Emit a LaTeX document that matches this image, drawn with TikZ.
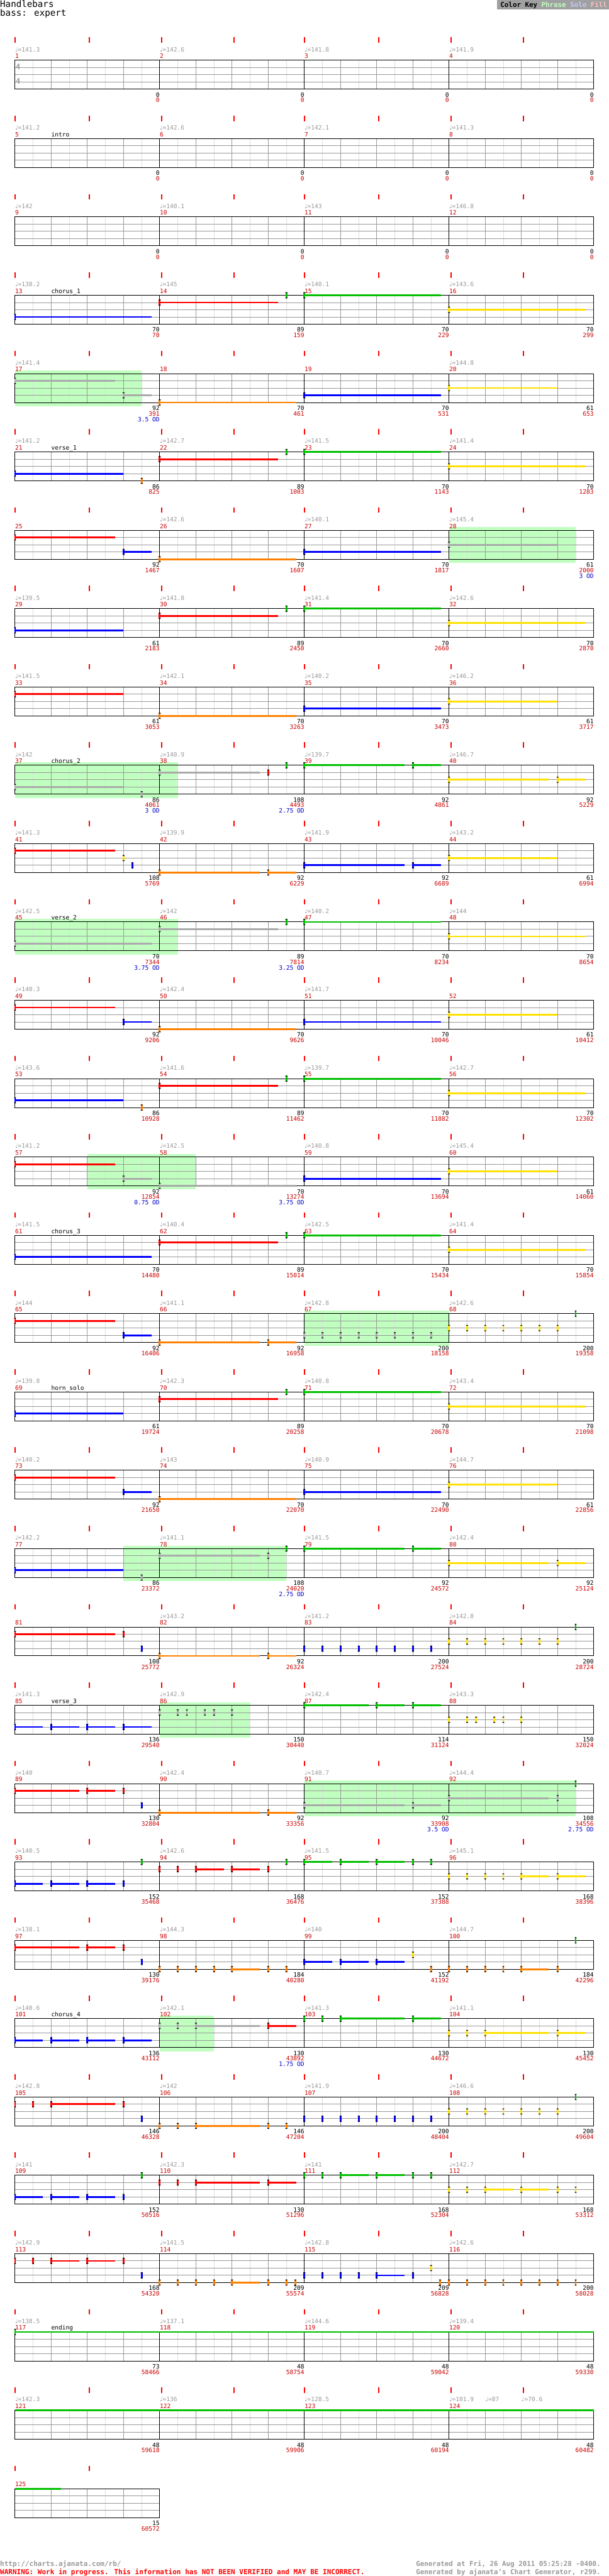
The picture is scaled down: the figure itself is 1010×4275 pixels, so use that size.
\documentclass[tikz,border=0pt]{standalone}
\usepackage{fontspec}
\usetikzlibrary{positioning}
\newfontfamily\chartfont{DejaVu Sans Mono}
\newfontfamily\notefont{DejaVu Sans}
\definecolor{gG}{HTML}{00C000}
\definecolor{gR}{HTML}{FF0000}
\definecolor{gY}{HTML}{FFE000}
\definecolor{gB}{HTML}{0000FF}
\definecolor{gO}{HTML}{FF8000}
\definecolor{gK}{HTML}{AAAAAA}
\definecolor{phrasefill}{HTML}{C0FFC0}
\definecolor{solofill}{HTML}{C8C8FF}
\definecolor{fillpink}{HTML}{FFC0C0}
\definecolor{keygray}{HTML}{A0A0A0}
\definecolor{gridgray}{HTML}{999999}
\definecolor{gridlight}{HTML}{DDDDDD}
\definecolor{tempogray}{HTML}{999999}
\definecolor{scorered}{HTML}{CC0000}
\definecolor{tickred}{HTML}{FF0000}
\definecolor{odblue}{HTML}{0000CC}
\newcommand\gem[3]{%
  \fill[#3] (#1-1.5,#2-5) rectangle ++(3,10);
  \fill[black] (#1-1.5,#2-5) rectangle ++(3,1.3) (#1-1.5,#2+3.7) rectangle ++(3,1.3);}

\begin{document}
\begin{tikzpicture}[x=1pt, y=-1pt,
    every node/.style={inner sep=0pt, font=\chartfont\fontsize{10}{12}\selectfont},
    barno/.style={anchor=base west, text=scorered},
    tempo/.style={anchor=base west, text=tempogray},
    part/.style={anchor=base west},
    score/.style={anchor=base east},
    total/.style={anchor=base east, text=scorered},
    od/.style={anchor=base east, text=odblue},
    foot/.style={anchor=base west, font=\chartfont\bfseries\fontsize{11.5}{12}\selectfont},
    sus/.style={line width=3pt, draw=#1},
    secmark/.style={line width=2pt, draw=tickred},
    faint/.style={line width=1pt, draw=gridlight},
    lane/.style={line width=1pt, draw=gridgray},
    barline/.style={line width=1pt, draw=black}]
\fill[white] (0,0) rectangle (1010,4275);
\useasboundingbox (0,0) rectangle (1010,4275);

\node[anchor=base west, font=\chartfont\fontsize{14.8}{16}\selectfont] (title) at (0,12.5) {Handlebars};
\node[anchor=base west, font=\chartfont\fontsize{14.8}{16}\selectfont] (track) at (0,26.5) {bass: expert};
\fill[keygray] (825,0) rectangle (1010,16);
\node[anchor=base west, font=\chartfont\bfseries\fontsize{11.3}{12}\selectfont] (key) at (830,11.5)
  {Color Key \textcolor{phrasefill}{Phrase} \textcolor{solofill}{Solo} \textcolor{fillpink}{Fill}};

\foreach \rowno/\bstart/\bend in {4/0/3.5, 6/12/15.5, 9/0/4.5, 11/0/4.5, 14/2/5, 16/8/12,
    19/3/7.5, 21/4/6.5, 22/8/15.5, 25/4/5.5}
  \fill[phrasefill] (25+60*\bstart,95+130*\rowno) rectangle (25+60*\bend,154+130*\rowno);

\foreach \rowno in {0,...,31}{
  \pgfmathsetmacro\yt{100+130*\rowno}
  \pgfmathtruncatemacro\wd{\rowno<31 ? 960 : 240}
  \foreach \x in {30,90,...,\wd} \draw[faint] (25+\x,\yt) -- ++(0,48);
  \foreach \k in {12,24,36} \draw[lane] (25,\yt+\k) -- ++(\wd,0);
  \foreach \x in {60,120,...,\wd} \draw[lane] (25+\x,\yt) -- ++(0,48);
  \ifnum\rowno<31
    \foreach \x in {240,480,720} \draw[barline] (25+\x,\yt) -- ++(0,48);
    \def\marks{25,148,268,388,505,628,748,868}
  \else
    \def\marks{25,148}
  \fi
  \draw[barline] (25,\yt) rectangle ++(\wd,48);
  \foreach \x in \marks \draw[secmark] (\x,\yt-38) -- ++(0,9);
}
\node[anchor=west, text=tempogray, font=\chartfont\bfseries\fontsize{12.5}{13}\selectfont] (sigtop) at (26,110.5) {4};
\node[anchor=west, text=tempogray, font=\chartfont\bfseries\fontsize{12.5}{13}\selectfont] (sigbot) at (26,134.5) {4};

\foreach \rowno/\laneno/\gemcol/\bstart/\bend in {
    3/3/gB/0/3.77, 3/1/gR/4/7.27, 3/0/gG/8/11.77, 3/2/gY/12/15.77,
    4/1/gK/0/2.77, 4/3/gK/3/3.77, 4/4/gO/4/7.77, 4/3/gB/8/11.77, 4/2/gY/12/15,
    5/3/gB/0/3, 5/1/gR/4/7.27, 5/0/gG/8/11.77, 5/2/gY/12/15.77,
    6/1/gR/0/2.77, 6/3/gB/3/3.77, 6/4/gO/4/7.77, 6/3/gB/8/11.77, 6/2/gK/12/15,
    7/3/gB/0/3, 7/1/gR/4/7.27, 7/0/gG/8/11.77, 7/2/gY/12/15.77,
    8/1/gR/0/3, 8/4/gO/4/7.77, 8/3/gB/8/11.77, 8/2/gY/12/15,
    9/3/gK/0/3, 9/1/gK/4/6.76, 9/0/gG/8/10.77, 9/0/gG/11/11.77, 9/2/gY/12/14.76, 9/2/gY/15/15.77,
    10/1/gR/0/2.77, 10/4/gO/4/6.76, 10/4/gO/7/7.77, 10/3/gB/8/10.77, 10/3/gB/11/11.77, 10/2/gY/12/15,
    11/3/gK/0/3.77, 11/1/gK/4/7.27, 11/0/gG/8/11.77, 11/2/gY/12/15.77,
    12/1/gR/0/2.77, 12/3/gB/3/3.77, 12/4/gO/4/7.77, 12/3/gB/8/11.77, 12/2/gY/12/15,
    13/3/gB/0/3, 13/1/gR/4/7.27, 13/0/gG/8/11.77, 13/2/gY/12/15.77,
    14/1/gR/0/2.77, 14/3/gK/3/3.77, 14/4/gK/4/7.77, 14/3/gB/8/11.77, 14/2/gY/12/15,
    15/3/gB/0/3.77, 15/1/gR/4/7.27, 15/0/gG/8/11.77, 15/2/gY/12/15.77,
    16/1/gR/0/2.77, 16/3/gB/3/3.77, 16/4/gO/4/6.76, 16/4/gO/7/7.77,
    17/3/gB/0/3, 17/1/gR/4/7.27, 17/0/gG/8/11.77, 17/2/gY/12/15.77,
    18/1/gR/0/2.77, 18/3/gB/3/3.77, 18/4/gO/4/7.77, 18/3/gB/8/11.77, 18/2/gY/12/15,
    19/3/gB/0/3, 19/1/gK/4/6.76, 19/0/gG/8/10.77, 19/0/gG/11/11.77, 19/2/gY/12/14.76, 19/2/gY/15/15.77,
    20/1/gR/0/2.77, 20/4/gO/4/6.76, 20/4/gO/7/7.77,
    21/3/gB/0/0.77, 21/3/gB/1/1.77, 21/3/gB/2/2.77, 21/3/gB/3/3.77, 21/0/gG/8/9.77, 21/0/gG/10/10.77, 21/0/gG/11/11.77,
    22/1/gR/0/1.77, 22/1/gR/2/2.77, 22/4/gO/4/6.76, 22/4/gO/7/7.77, 22/3/gK/8/10.77, 22/3/gK/11/11.77, 22/2/gK/12/14.76,
    23/3/gB/0/0.77, 23/3/gB/1/1.77, 23/3/gB/2/2.77, 23/1/gR/5/5.77, 23/1/gR/6/6.76, 23/0/gG/8/8.77,
    23/0/gG/9/9.77, 23/0/gG/10/10.77, 23/2/gY/14/14.76, 23/2/gY/15/15.77,
    24/1/gR/0/1.77, 24/1/gR/2/2.77, 24/4/gO/6/6.76, 24/3/gB/8/8.77, 24/3/gB/9/9.77, 24/3/gB/10/10.77, 24/4/gO/14/14.76,
    25/3/gB/0/0.77, 25/3/gB/1/1.77, 25/3/gB/2/2.77, 25/3/gB/3/3.77, 25/1/gK/5/6.76, 25/1/gR/7/7.77,
    25/0/gG/9/10.77, 25/0/gG/11/11.77, 25/2/gY/13/14.76, 25/2/gY/15/15.77,
    26/1/gR/1/2.77, 26/4/gO/5/6.76,
    27/3/gB/0/0.77, 27/3/gB/1/1.77, 27/3/gB/2/2.77, 27/1/gR/5/6.76, 27/1/gR/7/7.77, 27/0/gG/9/9.77,
    27/0/gG/10/10.77, 27/2/gY/13/13.77, 27/2/gY/14/14.76,
    28/1/gR/1/1.77, 28/1/gR/2/2.77, 28/4/gO/6/6.76, 28/3/gB/10/10.77,
    29/0/gG/0/16}{
  \pgfmathsetmacro\xs{25+60*\bstart}
  \pgfmathsetmacro\ys{100+130*\rowno+12*\laneno}
  \draw[sus=\gemcol] (\xs,\ys) -- (25+60*\bend,\ys);
  \gem{\xs}{\ys}{\gemcol}
}
\draw[sus=gG] (25,4000) -- (985,4000);
\draw[sus=gG] (25,4130) -- (101,4130);

\foreach \rowno/\laneno/\gemcol/\beats in {
    3/0/gG/{7.5}, 5/4/gO/{3.5}, 5/0/gG/{7.5}, 7/0/gG/{7.5},
    9/4/gK/{3.5}, 9/1/gR/{7}, 9/0/gG/{7.5}, 10/2/gY/{3}, 10/3/gB/{3.25},
    11/0/gG/{7.5}, 13/4/gO/{3.5}, 13/0/gG/{7.5}, 15/0/gG/{7.5},
    16/3/gK/{8,8.5,...,11.5}, 16/2/gY/{12,12.5,...,15}, 16/0/gG/{15.5}, 17/0/gG/{7.5},
    19/4/gK/{3.5}, 19/1/gK/{7}, 19/0/gG/{7.5},
    20/1/gR/{3}, 20/3/gB/{3.5,8,8.5,9,9.5,10,10.5,11,11.5}, 20/2/gY/{12,12.5,...,15}, 20/0/gG/{15.5},
    21/1/gK/{4,4.5,4.75,5.25,5.5,6}, 21/2/gY/{12,12.5,12.75,13.25,13.5,14},
    22/1/gR/{3}, 22/3/gB/{3.5}, 22/2/gK/{15}, 22/0/gG/{15.5},
    23/3/gB/{3}, 23/0/gG/{3.5,7.5,11,11.5}, 23/1/gR/{4,4.5,7}, 23/2/gY/{12,12.5,13,13.5},
    24/1/gR/{3}, 24/3/gB/{3.5}, 24/4/gO/{4,4.5,5,5.5,7,7.5,11.5,12,12.5,13,13.5,15}, 24/2/gY/{11}, 24/0/gG/{15.5},
    25/1/gK/{4,4.5}, 25/0/gG/{8,8.5}, 25/2/gY/{12,12.5},
    26/1/gR/{0,0.5,3}, 26/3/gB/{3.5,8,8.5,9,9.5,10,10.5,11,11.5}, 26/4/gO/{4,4.5,7,7.5},
    26/2/gY/{12,12.5,...,15}, 26/0/gG/{15.5},
    27/3/gB/{3}, 27/0/gG/{3.5,8,8.5,11,11.5}, 27/1/gR/{4,4.5}, 27/2/gY/{12,12.5,15,15.5},
    28/1/gR/{0,0.5,3}, 28/3/gB/{3.5,8,8.5,9,9.5,11}, 28/2/gY/{11.5},
    28/4/gO/{4,4.5,5,5.5,7,7.5,7.75,11.75,12,12.5,13,13.5,14,14.5,15,15.5}}{
  \pgfmathsetmacro\ys{100+130*\rowno+12*\laneno}
  \foreach \b in \beats {
    \pgfmathsetmacro\xs{25+60*\b}
    \gem{\xs}{\ys}{\gemcol}
  }
}

\foreach \mm/\mtempo/\mscore/\mtotal in {
    1/141.3/0/0, 2/142.6/0/0, 3/141.8/0/0, 4/141.9/0/0,
    5/141.2/0/0, 6/142.6/0/0, 7/142.1/0/0, 8/141.3/0/0,
    9/142/0/0, 10/140.1/0/0, 11/143/0/0, 12/146.8/0/0,
    13/138.2/70/70, 14/145/89/159, 15/140.1/70/229, 16/143.6/70/299,
    17/141.4/92/391, 18/0/70/461, 19/0/70/531, 20/144.8/61/653,
    21/141.2/86/825, 22/142.7/89/1003, 23/141.5/70/1143, 24/141.4/70/1283,
    25/0/92/1467, 26/142.6/70/1607, 27/140.1/70/1817, 28/145.4/61/2000,
    29/139.5/61/2183, 30/141.8/89/2450, 31/141.4/70/2660, 32/142.6/70/2870,
    33/141.5/61/3053, 34/142.1/70/3263, 35/140.2/70/3473, 36/146.2/61/3717,
    37/142/86/4061, 38/140.9/108/4493, 39/139.7/92/4861, 40/146.7/92/5229,
    41/141.3/108/5769, 42/139.9/92/6229, 43/141.9/92/6689, 44/143.2/61/6994,
    45/142.5/70/7344, 46/142/89/7814, 47/140.2/70/8234, 48/144/70/8654,
    49/140.3/92/9206, 50/142.4/70/9626, 51/141.7/70/10046, 52/0/61/10412,
    53/143.6/86/10928, 54/141.6/89/11462, 55/139.7/70/11882, 56/142.7/70/12302,
    57/141.2/92/12854, 58/142.5/70/13274, 59/140.8/70/13694, 60/145.4/61/14060,
    61/141.5/70/14480, 62/140.4/89/15014, 63/142.5/70/15434, 64/141.4/70/15854,
    65/144/92/16406, 66/141.1/92/16958, 67/142.8/200/18158, 68/142.6/200/19358,
    69/139.8/61/19724, 70/142.3/89/20258, 71/140.8/70/20678, 72/143.4/70/21098,
    73/140.2/92/21650, 74/143/70/22070, 75/140.9/70/22490, 76/144.7/61/22856,
    77/142.2/86/23372, 78/141.1/108/24020, 79/141.5/92/24572, 80/142.4/92/25124,
    81/0/108/25772, 82/143.2/92/26324, 83/141.2/200/27524, 84/142.8/200/28724,
    85/141.3/136/29540, 86/142.9/150/30440, 87/142.4/114/31124, 88/143.3/150/32024,
    89/140/130/32804, 90/142.4/92/33356, 91/140.7/92/33908, 92/144.4/108/34556,
    93/140.5/152/35468, 94/142.6/168/36476, 95/141.5/152/37388, 96/145.1/168/38396,
    97/138.1/130/39176, 98/144.3/184/40280, 99/140/152/41192, 100/144.7/184/42296,
    101/140.6/136/43112, 102/142.1/130/43892, 103/141.3/130/44672, 104/141.1/130/45452,
    105/142.8/146/46328, 106/142/146/47204, 107/141.9/200/48404, 108/146.6/200/49604,
    109/141/152/50516, 110/142.3/130/51296, 111/141/168/52304, 112/142.7/168/53312,
    113/142.9/168/54320, 114/141.5/209/55574, 115/142.8/209/56828, 116/142.6/200/58028,
    117/138.5/73/58466, 118/137.1/48/58754, 119/144.6/48/59042, 120/139.4/48/59330,
    121/142.3/48/59618, 122/136/48/59906, 123/128.5/48/60194, 124/101.9/48/60482,
    125/0/15/60572}{
  \pgfmathtruncatemacro\rowno{(\mm-1)/4}
  \pgfmathsetmacro\xa{25+240*(\mm-1-4*\rowno)}
  \pgfmathsetmacro\yt{100+130*\rowno}
  \node[barno] (bar\mm) at (\xa,\yt-3.3) {\mm};
  \ifdim\mtempo pt>0pt \node[tempo] (tempo\mm) at (\xa,\yt-14.3) {{\notefont ♩}=\mtempo};\fi
  \node[score] (score\mm) at (\xa+240,\yt+61) {\mscore};
  \node[total] (total\mm) at (\xa+240,\yt+70) {\mtotal};
}
\node[tempo] (tempo124b) at (805,3985.7) {{\notefont ♩}=87};
\node[tempo] (tempo124c) at (865,3985.7) {{\notefont ♩}=70.6};

\foreach \mm/\mpart in {5/intro, 13/chorus\_1, 21/verse\_1, 37/chorus\_2, 45/verse\_2,
    61/chorus\_3, 69/horn\_solo, 85/verse\_3, 101/chorus\_4, 117/ending}{
  \pgfmathsetmacro\yt{100+130*(\mm-1)/4}
  \node[part] (part\mm) at (85,\yt-3.3) {\mpart};
}

\foreach \mm/\mod in {17/3.5, 28/3, 37/3, 38/2.75, 45/3.75, 46/3.25, 57/0.75, 58/3.75,
    78/2.75, 91/3.5, 92/2.75, 102/1.75}{
  \pgfmathtruncatemacro\rowno{(\mm-1)/4}
  \pgfmathsetmacro\xa{25+240*(\mm-1-4*\rowno)}
  \pgfmathsetmacro\yt{100+130*\rowno}
  \node[od] (od\mm) at (\xa+240,\yt+79.4) {\mod\ OD};
}

\node[foot, text=gridgray] (url) at (0,4258.5) {http://charts.ajanata.com/rb/};
\node[foot, text=tickred] (warning) at (0,4272.5) {WARNING: Work in progress. This information has NOT BEEN VERIFIED and MAY BE INCORRECT.};
\node[foot, text=gridgray, font=\chartfont\bfseries\fontsize{11.3}{12}\selectfont] (genat) at (690,4258.5) {Generated at Fri, 26 Aug 2011 05:25:28 -0400.};
\node[foot, text=gridgray, font=\chartfont\bfseries\fontsize{11.3}{12}\selectfont] (genby) at (690,4272.5) {Generated by ajanata’s Chart Generator, r299.};
\end{tikzpicture}
\end{document}
